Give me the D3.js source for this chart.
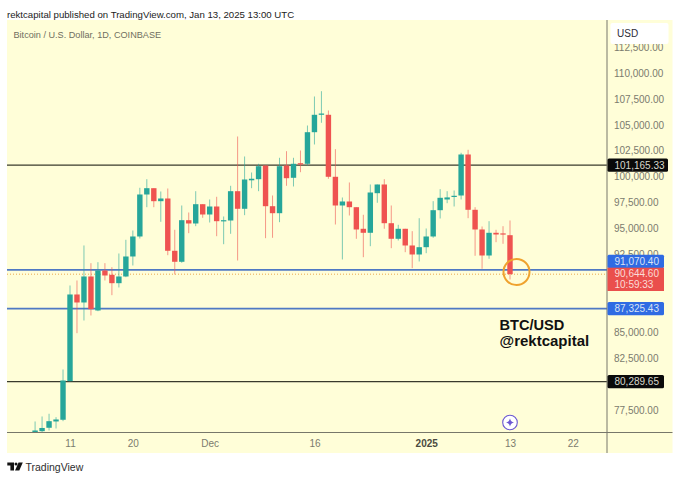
<!DOCTYPE html>
<html>
<head>
<meta charset="utf-8">
<script src="https://cdn.jsdelivr.net/npm/d3@7"></script>
<style>
  html, body { margin: 0; padding: 0; background: #fff; }
  svg { display: block; font-family: "Liberation Sans", Arial, sans-serif; }
</style>
</head>
<body>
<svg width="680" height="480"></svg>
<script>
// daily candles, first one is 6 Nov 2024
const firstDay = new Date(Date.UTC(2024, 10, 6));

const opens = [75200, 75507, 75834, 76442, 76606, 80328, 88689, 87917, 90424, 87146, 91003, 90588, 89778, 90424, 92353, 94282, 98332, 98939, 97686, 97946, 92903, 91842, 95854, 95535, 97396, 96403, 97174, 95795, 95824, 98650, 96953, 99700, 99807, 101128, 97203, 96528, 101128, 99942, 101350, 101292, 104339, 106017, 106017, 100039, 97271, 97657, 97107, 95024, 94638, 98457, 99296, 95564, 94060, 95024, 93414, 92546, 93250, 94282, 96818, 97850, 98110, 98235, 102189, 96856, 94957, 92449, 94638, 94580, 94407];
const highs = [76442, 76924, 77184, 76857, 81456, 89556, 90039, 93414, 91707, 91803, 91707, 91321, 92642, 93963, 94860, 98978, 99807, 98939, 98621, 98910, 94928, 97271, 96596, 98650, 97396, 97849, 98110, 96210, 99170, 103925, 101996, 100453, 101292, 101128, 98235, 101871, 102507, 101871, 102574, 104985, 107782, 108293, 106432, 102700, 98042, 99489, 97107, 96374, 99296, 99296, 99807, 97271, 95410, 95024, 94793, 96046, 95053, 97686, 98843, 98650, 98717, 102353, 102642, 97107, 95246, 95757, 94927, 95275, 95824];
const lows = [74800, 75381, 75574, 75767, 76471, 80299, 84957, 86181, 86664, 87078, 90039, 88621, 89364, 90357, 91485, 94089, 97107, 97107, 95699, 92479, 90617, 91745, 94600, 95275, 96085, 95632, 94310, 93539, 94542, 91967, 96336, 98939, 98650, 94118, 94156, 95661, 99170, 99103, 100482, 101128, 103153, 105246, 99845, 95439, 92064, 96307, 94060, 92285, 93346, 97531, 95024, 93154, 93896, 92768, 91225, 91871, 92671, 94156, 96017, 97493, 97174, 97849, 96046, 92421, 91167, 92131, 93732, 93578, 90135];
const closes = [75574, 75815, 76471, 76635, 80396, 88689, 87917, 90424, 87271, 91003, 90521, 89778, 90424, 92353, 94282, 98332, 98939, 97686, 97946, 92903, 91842, 95854, 95535, 97396, 96403, 97174, 95757, 95854, 98650, 96953, 99778, 99850, 101060, 97203, 96528, 101060, 99903, 101292, 101224, 104339, 106017, 106140, 100039, 97271, 97657, 97107, 94957, 94638, 98524, 99296, 95564, 94060, 95024, 93414, 92546, 93250, 94282, 96818, 98013, 98050, 98207, 102189, 96856, 94957, 92449, 94638, 94474, 94474, 90644.6];

const priceTicks = [112500, 110000, 107500, 105000, 102500, 100000, 97500, 95000, 92500, 90000, 87500, 85000, 82500, 80000, 77500];

const timeTicks = [
  [new Date(Date.UTC(2024, 10, 11)), '11'],
  [new Date(Date.UTC(2024, 10, 20)), '20'],
  [new Date(Date.UTC(2024, 11, 1)), 'Dec'],
  [new Date(Date.UTC(2024, 11, 16)), '16'],
  [new Date(Date.UTC(2025, 0, 1)), '2025'],
  [new Date(Date.UTC(2025, 0, 13)), '13'],
  [new Date(Date.UTC(2025, 0, 22)), '22']
];

const blackLevels = [101165.33, 80289.65];
const blueLevels = [91070.40, 87325.43];
const lastPrice = 90644.60;
const countdown = '10:59:33';

const green = '#26a69a';
const red = '#ef5350';
const paneBg = '#fffed8';

const paneLeft = 7, paneRight = 607, paneTop = 20, paneBottom = 432.5, outerRight = 672.5, outerBottom = 453;

const svg = d3.select('svg');

const x = d3.scaleUtc()
  .domain([new Date(Date.UTC(2024, 10, 11)), new Date(Date.UTC(2025, 0, 13))])
  .range([70, 510]);
const y = d3.scaleLinear().domain([110000, 77500]).range([73.5, 410.5]);

const fmt = d3.format(',.2f');

const candles = opens.map((o, i) => ({
  date: d3.utcDay.offset(firstDay, i),
  o, h: highs[i], l: lows[i], c: closes[i]
}));

// background
svg.append('rect')
  .attr('x', paneLeft).attr('y', paneTop)
  .attr('width', outerRight - paneLeft).attr('height', outerBottom - paneTop)
  .attr('fill', paneBg);

svg.append('clipPath').attr('id', 'pane').append('rect')
  .attr('x', paneLeft).attr('y', paneTop)
  .attr('width', paneRight - paneLeft).attr('height', paneBottom - paneTop);

const pane = svg.append('g').attr('clip-path', 'url(#pane)');

// horizontal levels, these go under the candles
pane.selectAll('line.black').data(blackLevels).enter().append('line')
  .attr('x1', paneLeft).attr('x2', paneRight)
  .attr('y1', (d) => y(d)).attr('y2', (d) => y(d))
  .attr('stroke', '#3a3a2c').attr('stroke-width', 1.2);

pane.selectAll('line.blue').data(blueLevels).enter().append('line')
  .attr('x1', paneLeft).attr('x2', paneRight)
  .attr('y1', (d) => y(d)).attr('y2', (d) => y(d))
  .attr('stroke', '#4f79c4').attr('stroke-width', 1.8);

pane.append('line')
  .attr('x1', paneLeft).attr('x2', paneRight)
  .attr('y1', y(lastPrice)).attr('y2', y(lastPrice))
  .attr('stroke', '#e9a94f').attr('stroke-dasharray', '1 2');

// candles
const candle = pane.selectAll('g.candle').data(candles).enter().append('g').attr('class', 'candle');
const candleColor = (d) => (d.c >= d.o ? green : red);

candle.append('line')
  .attr('x1', (d) => x(d.date)).attr('x2', (d) => x(d.date))
  .attr('y1', (d) => y(d.h)).attr('y2', (d) => y(d.l))
  .attr('stroke', candleColor)
  .attr('stroke-opacity', 0.6);

candle.append('rect')
  .attr('x', (d) => x(d.date) - 2.7)
  .attr('width', 5.4)
  .attr('y', (d) => y(Math.max(d.o, d.c)))
  .attr('height', (d) => Math.max(1.2, Math.abs(y(d.o) - y(d.c))))
  .attr('fill', candleColor);

// frame
svg.append('line')
  .attr('x1', paneLeft).attr('x2', outerRight)
  .attr('y1', paneBottom).attr('y2', paneBottom)
  .attr('stroke', '#77776a');
svg.append('line')
  .attr('x1', paneRight).attr('x2', paneRight)
  .attr('y1', paneTop).attr('y2', outerBottom)
  .attr('stroke', '#77776a');

// price axis, the ticks hidden under the level labels are left out
const coveredTicks = [90000, 87500, 80000];
const yAxis = svg.append('g')
  .attr('transform', `translate(${paneRight},-0.5)`)
  .call(d3.axisRight(y)
    .tickValues(priceTicks.filter((d) => !coveredTicks.includes(d)))
    .tickSize(0).tickPadding(7).tickFormat(fmt));
yAxis.select('.domain').remove();
yAxis.selectAll('text')
  .attr('fill', '#7b7b6e')
  .style('font-size', '10px')
  .style('font-family', '"Liberation Sans", Arial, sans-serif');

// time axis
const xAxis = svg.append('g')
  .attr('transform', `translate(0,${paneBottom})`)
  .call(d3.axisBottom(x)
    .tickValues(timeTicks.map((d) => d[0]))
    .tickSize(0).tickPadding(7)
    .tickFormat((d, i) => timeTicks[i][1]));
xAxis.select('.domain').remove();
xAxis.selectAll('text')
  .style('font-size', '10px')
  .style('font-family', '"Liberation Sans", Arial, sans-serif')
  .style('font-weight', (d, i) => (timeTicks[i][1] === '2025' ? 'bold' : 'normal'))
  .attr('fill', (d, i) => (timeTicks[i][1] === '2025' ? '#4a4a40' : '#7b7b6e'));

// USD box, it sits over the top half of the highest tick
svg.append('rect')
  .attr('x', 610.5).attr('y', 23).attr('width', 58).attr('height', 21).attr('rx', 2)
  .attr('fill', '#fff');
svg.append('text')
  .attr('x', 617).attr('y', 36.5)
  .attr('font-size', 10).attr('fill', '#2c2c38')
  .text('USD');

// price labels on the axis
const priceLabel = (value, fill, color, shift) => {
  const py = y(value) + shift;
  const text = fmt(value);
  svg.append('rect')
    .attr('x', paneRight + 0.5).attr('y', py - 6.6)
    .attr('width', text.length > 9 ? 60.5 : 56.5).attr('height', 13.2).attr('rx', 1.5)
    .attr('fill', fill);
  svg.append('text')
    .attr('x', paneRight + 7.5).attr('y', py + 3.6)
    .attr('font-size', 10).attr('fill', color)
    .text(text);
};

priceLabel(blackLevels[0], '#0a0a0a', '#d8d8cc', 0);
priceLabel(blackLevels[1], '#0a0a0a', '#d8d8cc', 0);
priceLabel(blueLevels[1], '#2f6be3', '#d8e2f4', 0);
// this label is pushed up to make room for the last price one
priceLabel(blueLevels[0], '#2f6be3', '#d8e2f4', -8.5);

// last price with countdown
svg.append('rect')
  .attr('x', paneRight + 0.5).attr('y', 267.7)
  .attr('width', 56.5).attr('height', 23.3)
  .attr('fill', '#ea4f4c');
svg.append('text')
  .attr('x', paneRight + 7.5).attr('y', 277)
  .attr('font-size', 10).attr('fill', '#fbdcd6')
  .text(fmt(lastPrice));
svg.append('text')
  .attr('x', paneRight + 7.5).attr('y', 287.7)
  .attr('font-size', 10).attr('fill', '#fbdcd6')
  .text(countdown);

// annotations
svg.append('circle')
  .attr('cx', 516.5).attr('cy', 272).attr('r', 13)
  .attr('fill', 'none').attr('stroke', '#efa22e').attr('stroke-width', 2);

svg.append('text')
  .attr('x', 499.5).attr('y', 329.5)
  .attr('font-size', 14.6).attr('font-weight', 'bold').attr('fill', '#111')
  .text('BTC/USD');
svg.append('text')
  .attr('x', 499.5).attr('y', 345.5)
  .attr('font-size', 15).attr('font-weight', 'bold').attr('fill', '#111')
  .text('@rektcapital');

// little purple marker near the time axis
const marker = svg.append('g').attr('transform', 'translate(510,422.5)');
marker.append('circle')
  .attr('r', 7.3).attr('fill', '#fff').attr('stroke', '#6b57d2').attr('stroke-width', 1.1);
marker.append('path')
  .attr('d', 'M0,-4 Q0.7,-0.7 4,0 Q0.7,0.7 0,4 Q-0.7,0.7 -4,0 Q-0.7,-0.7 0,-4Z')
  .attr('fill', '#6b57d2');

// titles
svg.append('text')
  .attr('x', 7).attr('y', 17.5)
  .attr('font-size', 9.65).attr('fill', '#222')
  .text('rektcapital published on TradingView.com, Jan 13, 2025 13:00 UTC');
svg.append('text')
  .attr('x', 13.5).attr('y', 37.5)
  .attr('font-size', 9.15).attr('fill', '#6f6f60')
  .text('Bitcoin / U.S. Dollar, 1D, COINBASE');

// TradingView mark
const logo = svg.append('g').attr('fill', '#131313');
logo.append('path').attr('d', 'M7.3,462.5 H14 V470.5 H10.4 V465.5 H7.3 Z');
logo.append('circle').attr('cx', 16).attr('cy', 464).attr('r', 1.5);
logo.append('path').attr('d', 'M18.5,462.5 H22.8 L19.3,470.5 H15 Z');
svg.append('text')
  .attr('x', 25.5).attr('y', 470.5)
  .attr('font-size', 10.5).attr('fill', '#2e2e2e')
  .text('TradingView');
</script>
</body>
</html>
